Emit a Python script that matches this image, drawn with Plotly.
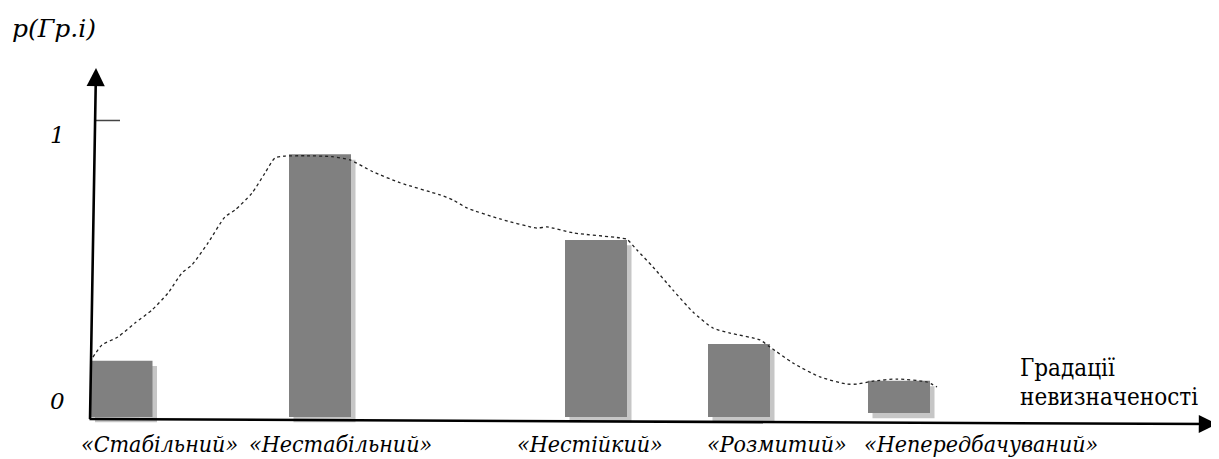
import plotly.graph_objects as go

# ---- data ----
categories = ["«Стабільний»", "«Нестабільний»", "«Нестійкий»", "«Розмитий»", "«Непередбачуваний»"]
bar_x = [0.285, 2.27, 5.03, 6.46, 8.06]          # position of each gradation on the axis
bar_top = [0.19, 0.886, 0.597, 0.246, 0.122]     # p(Гр.і)
bar_base = [0.0, 0.0, 0.0, 0.0, 0.0135]
label_x = [0.66, 2.47, 4.97, 6.84, 8.88]

curve_x = [0.00, 0.09, 0.25, 0.42, 0.59, 0.75, 0.89, 0.99, 1.15, 1.32, 1.42, 1.59, 1.72, 1.82,
           1.92, 2.12, 2.39, 2.57, 2.80, 3.07, 3.47, 3.60, 3.74, 4.07, 4.44, 4.54, 4.80, 5.27,
           5.34, 5.44, 5.60, 5.80, 6.00, 6.20, 6.37, 6.67, 6.77, 7.00, 7.27, 7.54, 7.64, 7.80,
           8.04, 8.34, 8.44]
curve_y = [0.202, 0.243, 0.270, 0.317, 0.361, 0.418, 0.486, 0.513, 0.587, 0.675, 0.698, 0.755,
           0.823, 0.874, 0.880, 0.881, 0.878, 0.867, 0.827, 0.790, 0.749, 0.732, 0.705, 0.668,
           0.637, 0.641, 0.621, 0.604, 0.599, 0.563, 0.506, 0.428, 0.354, 0.300, 0.283, 0.260,
           0.236, 0.182, 0.135, 0.111, 0.111, 0.121, 0.128, 0.118, 0.101]

y_ticks = [0, 1]
y_tick_pos = [0.054, 0.951]
y_title = "p(Гр.і)"
x_title = ["Градації", "невизначеності"]
x_title_pos = [0.165, 0.066]

BAR_W = 0.62
SH_DX = 0.045
SH_DY = 0.018

fig = go.Figure()

# shadows
fig.add_trace(go.Bar(
    x=[v + SH_DX for v in bar_x],
    y=[t - b for t, b in zip(bar_top, bar_base)],
    base=[b - SH_DY for b in bar_base],
    width=BAR_W, marker=dict(color="#c6c6c6", line=dict(width=0)),
    hoverinfo="skip"))
# bars
fig.add_trace(go.Bar(
    x=bar_x,
    y=[t - b for t, b in zip(bar_top, bar_base)],
    base=bar_base,
    width=BAR_W, marker=dict(color="#808080", line=dict(width=0)),
    text=categories, hoverinfo="text", textposition="none"))
# dotted curve
fig.add_trace(go.Scatter(
    x=curve_x, y=curve_y, mode="lines",
    line=dict(color="#222222", width=1.3, dash="dot", shape="spline", smoothing=0.6),
    hoverinfo="skip"))

anns = []
f_cond = "DejaVu Serif Condensed, DejaVu Serif"
f_serif = "DejaVu Serif"
# axes arrows
anns.append(dict(x=0.03, y=1.177, ax=-0.03, ay=-0.012, xref="x", yref="y", axref="x", ayref="y",
                 showarrow=True, arrowhead=2, arrowsize=1.4, arrowwidth=2.6, arrowcolor="black", text=""))
anns.append(dict(x=11.24, y=-0.024, ax=-0.05, ay=-0.007, xref="x", yref="y", axref="x", ayref="y",
                 showarrow=True, arrowhead=2, arrowsize=1.4, arrowwidth=2.6, arrowcolor="black", text=""))
# category labels
for lx, c in zip(label_x, categories):
    anns.append(dict(x=lx, y=-0.091, xref="x", yref="y", text=c, showarrow=False,
                     font=dict(family=f_cond, size=23, color="black", style="italic")))
# y tick labels
for t, yy in zip(y_ticks, y_tick_pos):
    anns.append(dict(x=-0.36, y=yy, xref="x", yref="y", text=str(t), showarrow=False,
                     font=dict(family=f_serif, size=23, color="black", style="italic")))
anns.append(dict(x=-0.395, y=1.31, xref="x", yref="y", text=y_title, showarrow=False,
                 font=dict(family=f_serif, size=25, color="black", style="italic")))
# x title
for txt, yy in zip(x_title, x_title_pos):
    anns.append(dict(x=9.25, y=yy, xref="x", yref="y", text=txt, showarrow=False, xanchor="left",
                     font=dict(family=f_cond, size=24, color="black")))

# the page body adds an 8 px margin, so the figure is 8 px smaller and its ranges start 8 px in
fig.update_layout(
    width=1211, height=451,
    margin=dict(l=0, r=0, t=0, b=0),
    paper_bgcolor="white", plot_bgcolor="white",
    barmode="overlay", showlegend=False,
    xaxis=dict(range=[-0.85, 11.26], visible=False, fixedrange=True),
    yaxis=dict(range=[-0.1417, 1.3794], visible=False, fixedrange=True),
    annotations=anns,
    shapes=[dict(type="line", xref="x", yref="y", x0=0.03, x1=0.27, y0=1.0, y1=1.0,
                 line=dict(color="#444444", width=1.5))],
)

fig.write_html("out.html")
